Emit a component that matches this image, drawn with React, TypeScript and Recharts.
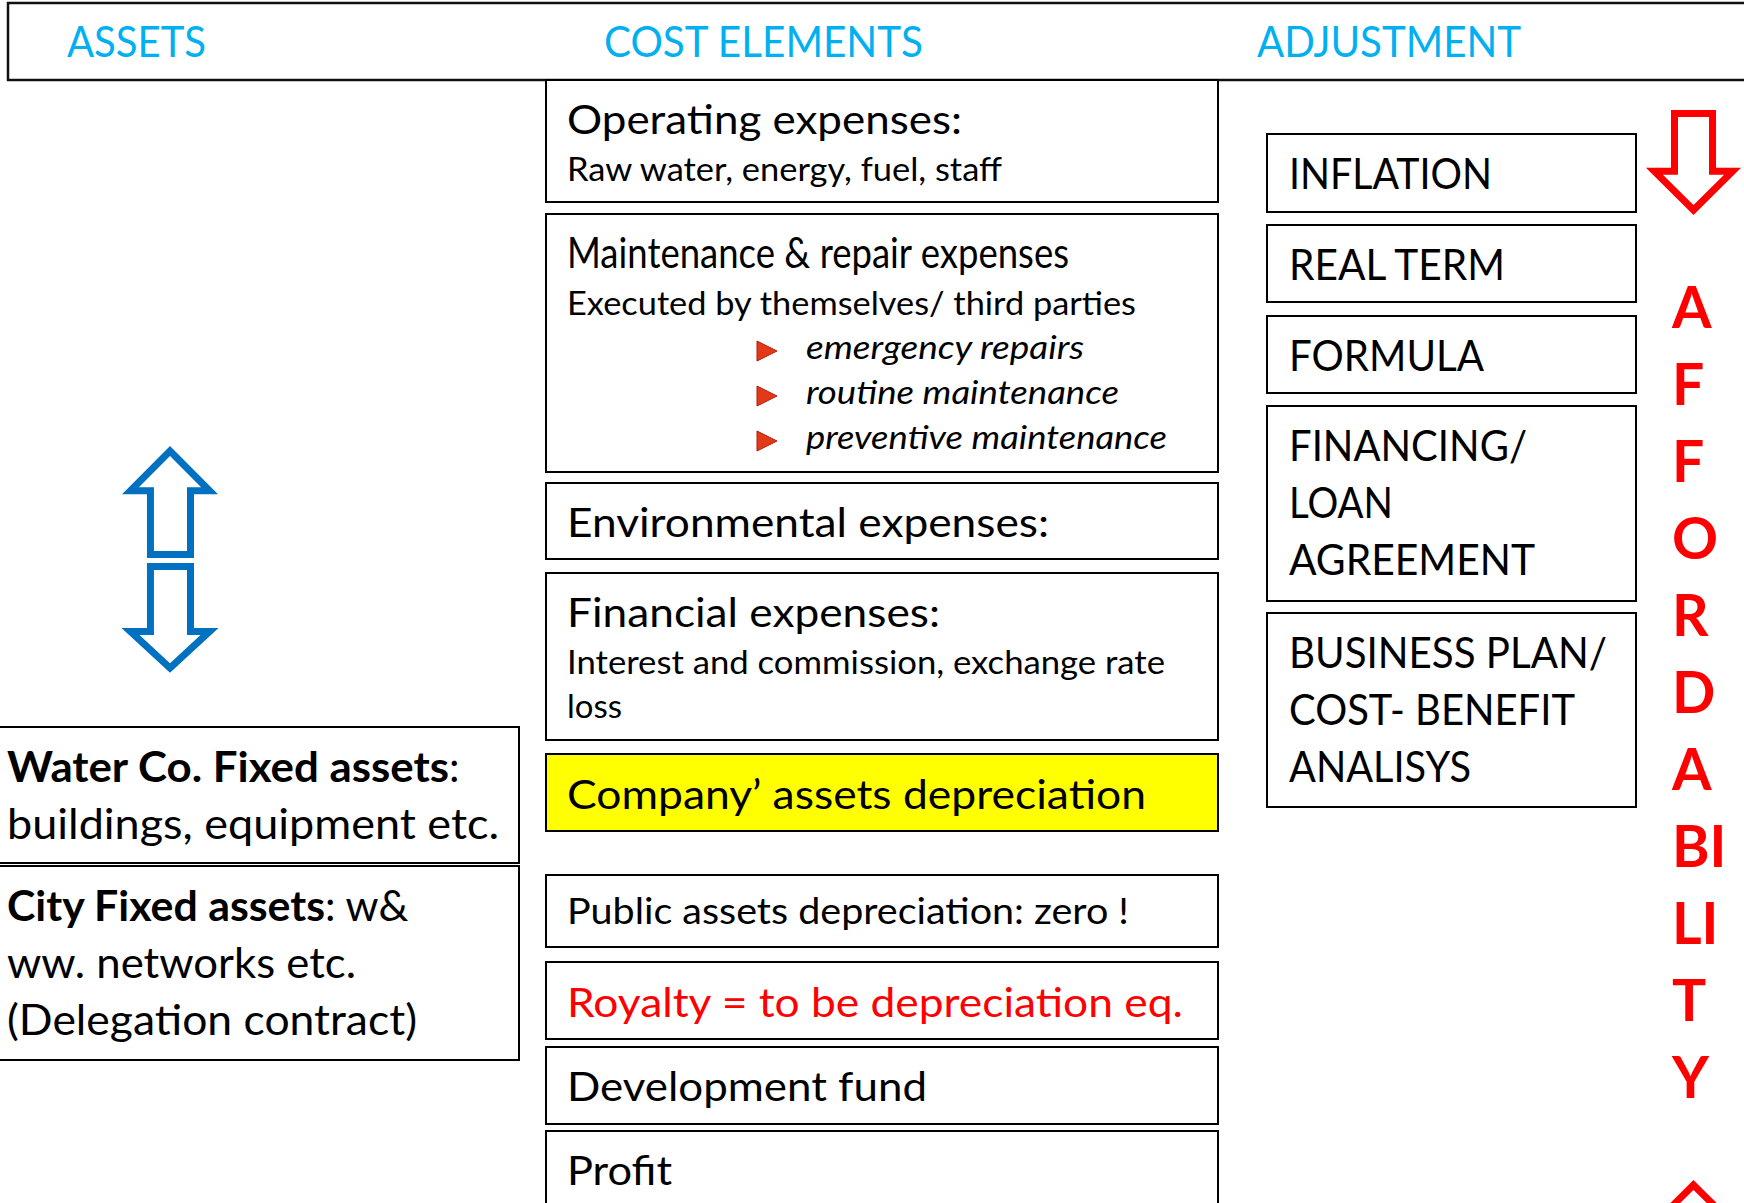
import React from 'react';
import { ComposedChart, XAxis, YAxis, ReferenceArea } from 'recharts';

const W = 1744;
const H = 1203;
const FONT = "Lato, 'Open Sans', 'DejaVu Sans', sans-serif";

// ---------- content ----------
const headerLabels = ['ASSETS', 'COST ELEMENTS', 'ADJUSTMENT'];
const costTitles = [
  'Operating expenses:',
  'Maintenance & repair expenses',
  'Environmental expenses:',
  'Financial expenses:',
  'Company\u2019 assets depreciation',
  'Public assets depreciation: zero !',
  'Royalty = to be depreciation eq.',
  'Development fund',
  'Profit',
];
const costDetails: string[][] = [
  ['Raw water, energy, fuel, staff'],
  ['Executed by themselves/ third parties'],
  [],
  ['Interest and commission, exchange rate', 'loss'],
  [],
  [],
  [],
  [],
  [],
];
const maintenanceBullets = ['emergency repairs', 'routine maintenance', 'preventive maintenance'];
const adjustmentLines: string[][] = [
  ['INFLATION'],
  ['REAL TERM'],
  ['FORMULA'],
  ['FINANCING/', 'LOAN', 'AGREEMENT'],
  ['BUSINESS PLAN/', 'COST- BENEFIT', 'ANALISYS'],
];
const assetBoldLabels = ['Water Co. Fixed assets', 'City Fixed assets'];
const assetTitleTails = [':', ': w&'];
const assetDetails: string[][] = [
  ['buildings, equipment etc.'],
  ['ww. networks etc.', '(Delegation contract)'],
];
const affordabilityLetters = ['A', 'F', 'F', 'O', 'R', 'D', 'A', 'BI', 'LI', 'T', 'Y'];

// ---------- layout ----------
const headerBox = { x1: 8, x2: 1760, y1: 3, y2: 80 };
const headerTextX = [59, 596, 1249];
const headerTextLen = [139, 319, 264];

const costCol = { x1: 546, x2: 1218 };
const costRows = [
  [80, 202], [214, 472], [483, 559], [573, 740], [754, 831],
  [875, 947], [962, 1039], [1047, 1124], [1131, 1215],
];
const costTitleOffset = [54, 54, 54, 54, 55, 49, 55, 54, 54];
const costTitleSize = [40, 42, 40, 40, 40, 36, 40, 40, 40];
const costTitleLen = [395, 502, 482, 373, 579, 562, 616, 360, 105];
const costDetailLen = [[435], [569], [], [598, 55], [], [], [], [], []];
const bulletTextLen = [278, 313, 361];
const bulletBaseline = [359, 404, 449];

const adjCol = { x1: 1267, x2: 1636 };
const adjRows = [[134, 212], [225, 302], [316, 393], [406, 601], [613, 807]];
const adjLen = [[203], [216], [195], [238, 104, 246], [318, 286, 182]];

const assetCol = { x1: -3, x2: 519 };
const assetRows = [[727, 863], [866, 1060]];
const assetBoldLen = [442, 318];
const assetDetailLen = [[492], [349, 410]];

const BLUE = '#00B0F0';
const ARROW_BLUE = '#0070C0';
const RED = '#FF0000';

const txt = (
  x: number,
  y: number,
  s: string,
  size: number,
  len?: number,
  extra: any = {}
) => (
  <text
    x={x}
    y={y}
    fontFamily={FONT}
    fontSize={size}
    fill="#000"
    textLength={len}
    lengthAdjust={len ? 'spacingAndGlyphs' : undefined}
    {...extra}
  >
    {s}
  </text>
);

const headerShape = (p: any) => (
  <g>
    <rect x={p.x} y={p.y} width={p.width} height={p.height} fill="#fff" stroke="#111" strokeWidth={2.5} />
    {headerLabels.map((s, i) =>
      txt(p.x + headerTextX[i], p.y + 54, s, 42, headerTextLen[i], { fill: BLUE, key: s })
    )}
  </g>
);

const costShape = (i: number) => (p: any) => {
  const x = p.x;
  const y = p.y;
  return (
    <g>
      <rect
        x={x}
        y={y}
        width={p.width}
        height={p.height}
        fill={i === 4 ? '#FFFF00' : '#fff'}
        stroke="#000"
        strokeWidth={2}
      />
      {txt(x + 21, y + costTitleOffset[i], costTitles[i], costTitleSize[i], costTitleLen[i], {
        fill: i === 6 ? RED : '#000',
      })}
      {costDetails[i].map((s, j) =>
        txt(x + 21, y + 101 + j * 44, s, 32, costDetailLen[i][j], { key: s })
      )}
      {i === 1 &&
        maintenanceBullets.map((s, j) => {
          const by = bulletBaseline[j];
          const cy = by - 8;
          return (
            <g key={s}>
              <polygon
                points={`${x + 211},${cy - 10} ${x + 231},${cy} ${x + 211},${cy + 10}`}
                fill="#E23A18"
                stroke="#A8200C"
                strokeWidth={1}
              />
              {txt(x + 260, by, s, 32, bulletTextLen[j], { fontStyle: 'italic' })}
            </g>
          );
        })}
    </g>
  );
};

const adjShape = (i: number) => (p: any) => (
  <g>
    <rect x={p.x} y={p.y} width={p.width} height={p.height} fill="#fff" stroke="#000" strokeWidth={2} />
    {adjustmentLines[i].map((s, j) =>
      txt(p.x + 22, p.y + 55 + j * 57, s, 42, adjLen[i][j], { key: s })
    )}
  </g>
);

const assetShape = (i: number) => (p: any) => {
  const x = p.x + 10;
  const y = p.y;
  return (
    <g>
      <rect x={p.x} y={p.y} width={p.width} height={p.height} fill="#fff" stroke="#000" strokeWidth={2} />
      {txt(x, y + 55, assetBoldLabels[i], 42, assetBoldLen[i], { fontWeight: 'bold' })}
      {txt(x + assetBoldLen[i], y + 55, assetTitleTails[i], 42, undefined, {
        style: { whiteSpace: 'pre' },
      })}
      {assetDetails[i].map((s, j) =>
        txt(x, y + 55 + (j + 1) * 57, s, 42, assetDetailLen[i][j], { key: s })
      )}
    </g>
  );
};

const arrowShape = (
  dir: 'up' | 'down',
  l: number,
  r: number,
  hf: number,
  color: string,
  sw: number
) => (p: any) => {
  const i = sw / 2;
  const X = p.x;
  const Y = p.y;
  const w = p.width;
  const h = p.height;
  const sl = X + l * w + i;
  const sr = X + r * w - i;
  const left = X + i * 2.4;
  const right = X + w - i * 2.4;
  const cx = X + w / 2;
  let pts: number[][];
  if (dir === 'down') {
    const hb = Y + hf * h + i;
    const top = Y + i;
    const tip = Y + h - i * 1.41;
    pts = [[sl, top], [sr, top], [sr, hb], [right, hb], [cx, tip], [left, hb], [sl, hb]];
  } else {
    const hb = Y + hf * h - i;
    const bottom = Y + h - i;
    const tip = Y + i * 1.41;
    pts = [[cx, tip], [right, hb], [sr, hb], [sr, bottom], [sl, bottom], [sl, hb], [left, hb]];
  }
  return (
    <polygon
      points={pts.map((q) => q.join(',')).join(' ')}
      fill="#fff"
      stroke={color}
      strokeWidth={sw}
      strokeLinejoin="miter"
    />
  );
};

const lettersShape = (p: any) => (
  <g>
    {affordabilityLetters.map((s, i) =>
      txt(p.x, p.y + 41 + i * 77, s, 57, undefined, {
        key: i,
        fill: RED,
        fontWeight: 'bold',
      })
    )}
  </g>
);

const frame = [{ x: 0, y: 0 }, { x: W, y: H }];

export default function App() {
  return (
    <div style={{ position: 'absolute', left: 0, top: 0, width: W, height: H, background: '#fff' }}>
      <ComposedChart
        width={W}
        height={H}
        data={frame}
        margin={{ top: 0, right: 0, bottom: 0, left: 0 }}
      >
        <XAxis type="number" dataKey="x" domain={[0, W]} hide allowDataOverflow />
        <YAxis type="number" dataKey="y" domain={[0, H]} reversed hide allowDataOverflow />

        <ReferenceArea
          x1={headerBox.x1}
          x2={headerBox.x2}
          y1={headerBox.y1}
          y2={headerBox.y2}
          ifOverflow="visible"
          shape={headerShape}
        />

        {costRows.map((r, i) => (
          <ReferenceArea
            key={'c' + i}
            x1={costCol.x1}
            x2={costCol.x2}
            y1={r[0]}
            y2={r[1]}
            ifOverflow="visible"
            shape={costShape(i)}
          />
        ))}

        {adjRows.map((r, i) => (
          <ReferenceArea
            key={'a' + i}
            x1={adjCol.x1}
            x2={adjCol.x2}
            y1={r[0]}
            y2={r[1]}
            ifOverflow="visible"
            shape={adjShape(i)}
          />
        ))}

        {assetRows.map((r, i) => (
          <ReferenceArea
            key={'s' + i}
            x1={assetCol.x1}
            x2={assetCol.x2}
            y1={r[0]}
            y2={r[1]}
            ifOverflow="visible"
            shape={assetShape(i)}
          />
        ))}

        <ReferenceArea x1={122} x2={218} y1={446} y2={558} ifOverflow="visible"
          shape={arrowShape('up', 0.26, 0.75, 0.43, ARROW_BLUE, 7)} />
        <ReferenceArea x1={122} x2={218} y1={563} y2={673} ifOverflow="visible"
          shape={arrowShape('down', 0.26, 0.75, 0.59, ARROW_BLUE, 7)} />
        <ReferenceArea x1={1646} x2={1741} y1={110} y2={215} ifOverflow="visible"
          shape={arrowShape('down', 0.263, 0.737, 0.55, RED, 7)} />
        <ReferenceArea x1={1646} x2={1741} y1={1180} y2={1285} ifOverflow="visible"
          shape={arrowShape('up', 0.263, 0.737, 0.45, RED, 7)} />

        <ReferenceArea x1={1672} x2={1744} y1={287} y2={1110} ifOverflow="visible"
          shape={lettersShape} />
      </ComposedChart>
    </div>
  );
}
